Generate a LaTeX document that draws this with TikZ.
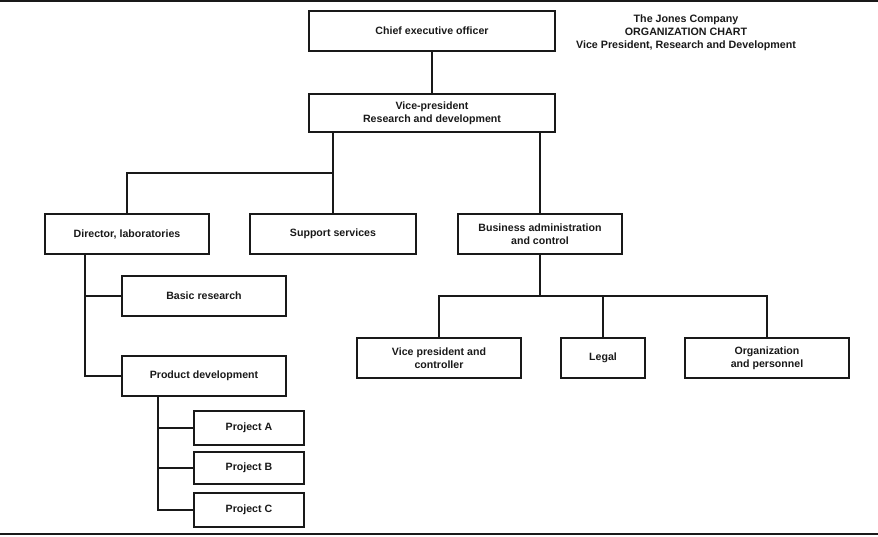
\documentclass[tikz,border=0pt]{standalone}
\usepackage{fontspec}
\setmainfont{Liberation Sans}
\begin{document}
\begin{tikzpicture}[x=1pt,y=-1pt,
  box/.style={draw=black!90, line width=2pt, align=center, inner sep=0pt,
    font=\fontsize{10.6}{13}\selectfont\bfseries, text=black!90},
  conn/.style={line width=2pt, draw=black!90}]
\useasboundingbox (0,0) rectangle (878,536);
\draw[conn] (0,1) -- (878,1);
\draw[conn] (0,534) -- (878,534);
% boxes
\node[box, minimum width=246pt, minimum height=40pt] (ceo) at (432,31) {Chief executive officer};
\node[box, minimum width=246pt, minimum height=38pt] (vp) at (432,113) {Vice-president\\Research and development};
\node[box, minimum width=164pt, minimum height=40pt] (dir) at (127,234) {Director, laboratories};
\node[box, minimum width=166pt, minimum height=40pt] (sup) at (333,234) {Support services};
\node[box, minimum width=164pt, minimum height=40pt] (bus) at (540,234) {Business administration\\and control};
\node[box, minimum width=164pt, minimum height=40pt] (basic) at (204,296) {Basic research};
\node[box, minimum width=164pt, minimum height=40pt] (prod) at (204,376) {Product development};
\node[box, minimum width=110pt, minimum height=34pt] (pa) at (249,428) {Project A};
\node[box, minimum width=110pt, minimum height=32pt] (pb) at (249,468) {Project B};
\node[box, minimum width=110pt, minimum height=34pt] (pc) at (249,510) {Project C};
\node[box, minimum width=164pt, minimum height=40pt] (vpc) at (439,358) {Vice president and\\controller};
\node[box, minimum width=84pt, minimum height=40pt] (legal) at (603,358) {Legal};
\node[box, minimum width=164pt, minimum height=40pt] (org) at (767,358) {Organization\\and personnel};
% title
\node[align=center, inner sep=0pt, font=\fontsize{10.7}{13}\selectfont\bfseries, text=black!90] (title) at (686,32.5)
  {The Jones Company\\ORGANIZATION CHART\\Vice President, Research and Development};
% connectors
\coordinate (j1) at (333,173);
\coordinate (j2) at (540,296);
\draw[conn] (ceo) -- (vp);
\draw[conn] (vp.south -| j1) -- (sup.north -| j1);
\draw[conn] (dir.north) |- (j1);
\draw[conn] (vp.south -| bus.north) -- (bus.north);
\draw[conn] ([xshift=-42pt]dir.south) |- (basic.west);
\draw[conn] ([xshift=-42pt]dir.south) |- (prod.west);
\draw[conn] ([xshift=-46pt]prod.south) |- (pa.west);
\draw[conn] ([xshift=-46pt]prod.south) |- (pb.west);
\draw[conn] ([xshift=-46pt]prod.south) |- (pc.west);
\draw[conn] (bus.south) -- (j2);
\draw[conn] (vpc.north) |- (j2) -| (org.north);
\draw[conn] (legal.north) -- (legal.north |- j2);
\end{tikzpicture}
\end{document}
